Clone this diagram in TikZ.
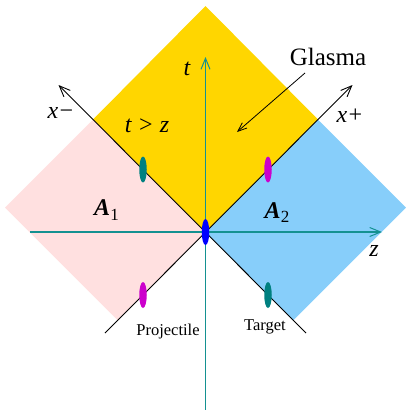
\documentclass[tikz,border=0pt]{standalone}
\usepackage{fontspec}
\setmainfont{Liberation Serif}
\usetikzlibrary{arrows.meta, shapes.geometric}
\definecolor{glasmagold}{RGB}{255,214,0}
\definecolor{projpink}{RGB}{255,224,224}
\definecolor{targblue}{RGB}{135,206,250}
\definecolor{axisteal}{RGB}{20,145,145}
\definecolor{nucteal}{RGB}{0,128,128}
\definecolor{nucmagenta}{RGB}{204,0,204}
\definecolor{nucblue}{RGB}{0,0,255}

\begin{document}
\begin{tikzpicture}[x=1pt, y=-1pt,
    lightcone/.style={line width=0.9pt, draw=black},
    axis/.style={line width=1.2pt, draw=axisteal, -{Straight Barb[length=11pt, width=9pt, line width=1pt]}},
    nucleus/.style={ellipse, minimum width=7.5pt, minimum height=26pt, inner sep=0pt},
    lbl/.style={font=\fontsize{24}{28}\selectfont\itshape, inner sep=0pt},
    small/.style={font=\fontsize{16.5}{19}\selectfont, inner sep=0pt}
  ]
    \useasboundingbox (0,0) rectangle (405,410);

    % regions
    \fill[glasmagold] (205.5,232) -- (93,119.5) -- (205.5,6) -- (318,119.5) -- cycle;
    \fill[projpink] (205.5,232) -- (93,119.5) -- (5,207.5) -- (117.5,320) -- cycle;
    \fill[targblue] (205.5,232) -- (318,119.5) -- (406,207.5) -- (293.5,320) -- cycle;

    % light cone
    \coordinate (xmlow) at (306,333);
    \coordinate (xmtip) at (58.5,85);
    \coordinate (xplow) at (105,333);
    \coordinate (xptip) at (352.5,85);
    \draw[lightcone, -{Straight Barb[length=11pt, width=9pt]}] (xmlow) -- (xmtip);
    \draw[lightcone, -{Straight Barb[length=11pt, width=9pt]}] (xplow) -- (xptip);

    % axes
    \coordinate (tlow) at (205.5,410);
    \coordinate (ttip) at (205.5,57);
    \coordinate (zlow) at (30,232);
    \coordinate (ztip) at (382,232);
    \draw[axis] (tlow) -- (ttip);
    \draw[axis] (zlow) -- (ztip);

    % nuclei
    \node[nucleus, fill=nucteal] (projin) at (143,169.5) {};
    \node[nucleus, fill=nucmagenta] (targout) at (268,169.5) {};
    \node[nucleus, fill=nucmagenta] (projout) at (143,295) {};
    \node[nucleus, fill=nucteal] (targin) at (268,295) {};
    \node[nucleus, fill=nucblue] (collision) at (205.5,232) {};

    % labels
    \node[lbl] (tlabel) at (187,69) {t};
    \node[lbl] (xmlabel) at (61,113) {x−};
    \node[lbl] (xplabel) at (350,116) {x+};
    \node[lbl] (zlabel) at (374,251) {z};
    \node[lbl] (cone) at (147,126) {t > z};
    \node[lbl, font=\fontsize{24}{28}\selectfont] (aone) at (106.5,210) {\textbf{\textit{A}}\raisebox{-0.2em}{\fontsize{17}{20}\selectfont 1}};
    \node[lbl, font=\fontsize{24}{28}\selectfont] (atwo) at (277,212.5) {\textbf{\textit{A}}\raisebox{-0.2em}{\fontsize{17}{20}\selectfont 2}};
    \node[font=\fontsize{25}{30}\selectfont, inner sep=0pt] (glasma) at (328,56.5) {Glasma};
    \node[small] (projectile) at (168,331.5) {Projectile};
    \node[small] (target) at (265,326.5) {Target};

    \coordinate (glasmatail) at (305,73);
    \coordinate (glasmatip) at (237,132);
    \draw[line width=0.8pt, -{Straight Barb[length=9pt, width=7pt]}] (glasmatail) -- (glasmatip);
  \end{tikzpicture}
\end{document}
